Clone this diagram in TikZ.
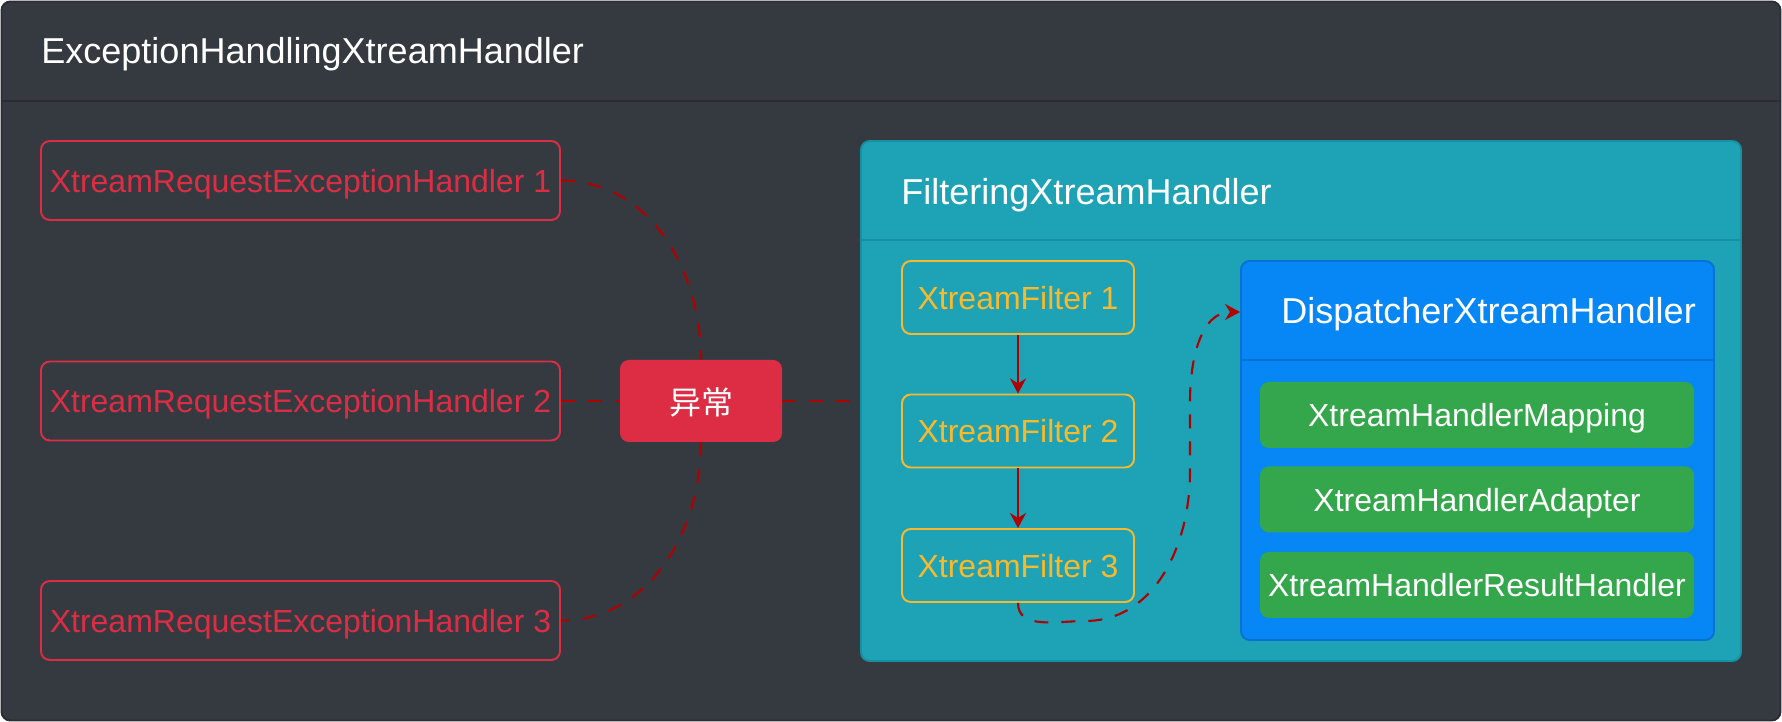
\documentclass[tikz,border=0pt]{standalone}
\usepackage{fontspec}
\setmainfont{Liberation Sans}
\newfontfamily\cjkfont{Noto Sans CJK SC}
\usetikzlibrary{arrows.meta}
\definecolor{framefill}{HTML}{353A41}
\definecolor{frameborder}{HTML}{2A2E34}
\definecolor{dangerred}{HTML}{DC2D45}
\definecolor{infofill}{HTML}{1DA3B5}
\definecolor{infoborder}{HTML}{1790A2}
\definecolor{primaryfill}{HTML}{0787F5}
\definecolor{primaryborder}{HTML}{0670D4}
\definecolor{successfill}{HTML}{34A64B}
\definecolor{warningline}{HTML}{F9B92C}
\definecolor{linkred}{HTML}{B00000}
\tikzset{
  card/.style={
    rectangle,
    rounded corners=5pt,
    align=center,
    inner sep=0pt,
    text depth=0pt,
    font=\fontsize{18.2}{22}\selectfont
  },
  handler/.style={card, draw=dangerred, text=dangerred, line width=1.1pt, minimum width=10.38cm, minimum height=1.58cm},
  fault/.style={card, fill=dangerred, text=white, minimum width=3.24cm, minimum height=1.64cm, font=\fontsize{18.2}{22}\selectfont\cjkfont},
  filter/.style={card, draw=warningline, text=warningline, line width=1.1pt, minimum width=4.64cm, minimum height=1.46cm},
  part/.style={card, fill=successfill, text=white, minimum width=8.68cm, minimum height=1.32cm},
  container/.style={rectangle, rounded corners=5pt, line width=1.1pt, inner sep=0pt},
  boxtitle/.style={font=\fontsize{20.5}{24}\selectfont, text=white, anchor=west, inner sep=0pt, text depth=0pt},
  flow/.style={-{Stealth[length=3mm, width=3.2mm]}, line width=1.2pt, draw=linkred},
  catchline/.style={line width=1.2pt, draw=linkred, dash pattern=on 2.8mm off 2.6mm},
  catchflow/.style={catchline, -{Stealth[length=3mm, width=3.2mm]}}
}

\begin{document}
\begin{tikzpicture}
\useasboundingbox (0,0) rectangle (35.64,14.44);

% Outer handler.
\node[container, fill=framefill, draw=frameborder, minimum width=35.58cm, minimum height=14.38cm] (outer) at (17.82,7.22) {};
\draw[frameborder, line width=1.1pt] (outer.west |- 0,12.42) -- (outer.east |- 0,12.42);
\node[boxtitle] (outertitle) at (0.82,13.43) {ExceptionHandlingXtreamHandler};

% Exception handlers.
\foreach \i/\y in {1/10.83,2/6.42,3/2.03} {
  \node[handler] (h\i) at (6.01,\y) {XtreamRequestExceptionHandler \i};
}
\node[fault] (fault) at (14.02,6.42) {异常};

% Filtering handler.
\node[container, fill=infofill, draw=infoborder, minimum width=17.6cm, minimum height=10.4cm] (filtering) at (26.02,6.42) {};
\draw[infoborder, line width=1.1pt] (filtering.west |- 0,9.64) -- (filtering.east |- 0,9.64);
\node[boxtitle] (filteringtitle) at (18.02,10.61) {FilteringXtreamHandler};

\foreach \i/\y in {1/8.49,2/5.82,3/3.13} {
  \node[filter] (f\i) at (20.36,\y) {XtreamFilter \i};
}

% Dispatcher handler.
\node[container, fill=primaryfill, draw=primaryborder, minimum width=9.46cm, minimum height=7.58cm] (dispatcher) at (29.55,5.43) {};
\draw[primaryborder, line width=1.1pt] (dispatcher.west |- 0,7.24) -- (dispatcher.east |- 0,7.24);
\node[boxtitle] (dispatchertitle) at (25.62,8.23) {DispatcherXtreamHandler};
\coordinate (dispatcherhead) at (dispatcher.west |- 0,8.2);

\node[part] (mapping) at (29.54,6.14) {XtreamHandlerMapping};
\node[part] (adapter) at (29.54,4.45) {XtreamHandlerAdapter};
\node[part] (result) at (29.54,2.74) {XtreamHandlerResultHandler};

% Exception links.
\draw[catchline] (h1.east) to[out=0, in=90] (fault.north);
\draw[catchline] (h2.east) -- (fault.west);
\draw[catchline] (fault.south) to[out=-90, in=0] (h3.east);
\draw[catchline] (fault.east) -- (fault.east -| filtering.west);

% Filter chain.
\draw[flow] (f1) -- (f2);
\draw[flow] (f2) -- (f3);
\coordinate (loopbottom) at (21.7,2.02);
\coordinate (looprise) at (23.8,5.0);
\coordinate (looptop) at (23.8,6.4);
\draw[catchflow] (f3.south) to[out=-90, in=180] (loopbottom) to[out=0, in=-90] (looprise) -- (looptop) to[out=90, in=180] (dispatcherhead);

\end{tikzpicture}
\end{document}
